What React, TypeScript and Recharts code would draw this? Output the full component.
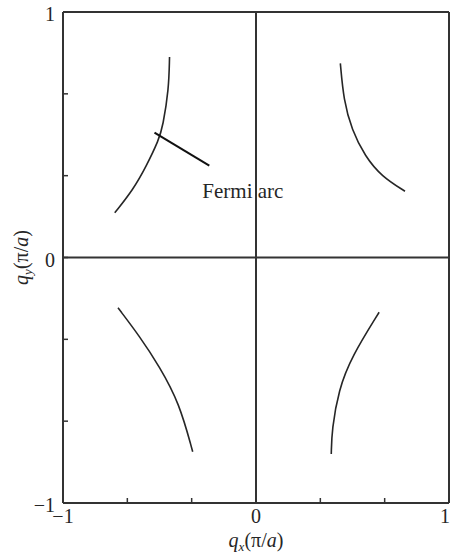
import { Line, LineChart, ReferenceDot, ReferenceLine, XAxis, YAxis } from "recharts";

// Fermi-surface arcs in the (qx, qy) plane, units of π/a.
const arcUpperLeft = [
  { qx: -0.448, qy: 0.817 },
  { qx: -0.452, qy: 0.683 },
  { qx: -0.483, qy: 0.534 },
  { qx: -0.503, qy: 0.48 },
  { qx: -0.569, qy: 0.371 },
  { qx: -0.637, qy: 0.276 },
  { qx: -0.732, qy: 0.182 },
];

const arcUpperRight = [
  { qx: 0.437, qy: 0.791 },
  { qx: 0.454, qy: 0.642 },
  { qx: 0.496, qy: 0.52 },
  { qx: 0.565, qy: 0.412 },
  { qx: 0.651, qy: 0.33 },
  { qx: 0.772, qy: 0.27 },
];

const arcLowerLeft = [
  { qx: -0.715, qy: -0.205 },
  { qx: -0.603, qy: -0.321 },
  { qx: -0.5, qy: -0.444 },
  { qx: -0.397, qy: -0.593 },
  { qx: -0.328, qy: -0.791 },
];

const arcLowerRight = [
  { qx: 0.638, qy: -0.223 },
  { qx: 0.496, qy: -0.403 },
  { qx: 0.428, qy: -0.539 },
  { qx: 0.393, qy: -0.702 },
  { qx: 0.39, qy: -0.8 },
];

// leader from the upper-left arc to its annotation
const arcPointer = [
  { qx: -0.526, qy: 0.509 },
  { qx: -0.242, qy: 0.374 },
];
const annotation = { qx: -0.278, qy: 0.272, text: "Fermi arc" };

// ticks every 1/3, only the integers carry a label
const axisTicks = [-1, -2 / 3, -1 / 3, 0, 1 / 3, 2 / 3, 1];
const labeledTicks = [-1, 0, 1];
const tickText = ["\u22121", "0", "1"];

const FONT = "'Liberation Serif', 'Times New Roman', serif";
const INK = "#262626";
const AXIS = "#333333";

const formatTick = (v: number) => {
  const i = labeledTicks.findIndex((t) => Math.abs(t - v) < 1e-6);
  return i >= 0 ? tickText[i] : "";
};

function QxLabel(props: any) {
  const vb = props.viewBox;
  const cx = vb.x + vb.width / 2;
  return (
    <text x={cx} y={547} textAnchor="middle" fontFamily={FONT} fontSize={20} fill={INK}>
      <tspan fontStyle="italic">q</tspan>
      <tspan fontStyle="italic" fontSize={13} dy={4}>x</tspan>
      <tspan dy={-4}>(π/</tspan>
      <tspan fontStyle="italic">a</tspan>
      <tspan>)</tspan>
    </text>
  );
}

function QyLabel(props: any) {
  const vb = props.viewBox;
  const cy = vb.y + vb.height / 2;
  const cx = 28;
  return (
    <text
      x={cx}
      y={cy}
      transform={`rotate(-90, ${cx}, ${cy})`}
      textAnchor="middle"
      fontFamily={FONT}
      fontSize={20}
      fill={INK}
    >
      <tspan fontStyle="italic">q</tspan>
      <tspan fontStyle="italic" fontSize={13} dy={4}>y</tspan>
      <tspan dy={-4}>(π/</tspan>
      <tspan fontStyle="italic">a</tspan>
      <tspan>)</tspan>
    </text>
  );
}

const arcs = [arcUpperLeft, arcUpperRight, arcLowerLeft, arcLowerRight];

export default function App() {
  return (
    <div style={{ position: "absolute", left: 0, top: 0, background: "#fff" }}>
      <LineChart width={450} height={555} margin={{ top: 12, right: 1, bottom: 0, left: 0 }}>
        <XAxis
          type="number"
          dataKey="qx"
          domain={[-1, 1]}
          ticks={axisTicks}
          tickFormatter={formatTick}
          allowDataOverflow
          height={52}
          tickSize={-5}
          tickMargin={11}
          axisLine={{ stroke: AXIS, strokeWidth: 2 }}
          tickLine={{ stroke: AXIS, strokeWidth: 1.5 }}
          tick={{ fontFamily: FONT, fontSize: 20, fill: INK }}
          label={<QxLabel />}
        />
        <YAxis
          type="number"
          dataKey="qy"
          domain={[-1, 1]}
          ticks={axisTicks}
          tickFormatter={formatTick}
          allowDataOverflow
          width={63}
          tickSize={-5}
          tickMargin={13}
          axisLine={{ stroke: AXIS, strokeWidth: 2 }}
          tickLine={{ stroke: AXIS, strokeWidth: 1.5 }}
          tick={{ fontFamily: FONT, fontSize: 20, fill: INK, dy: 2 }}
          label={<QyLabel />}
        />
        <ReferenceLine x={1} stroke={AXIS} strokeWidth={2} />
        <ReferenceLine y={1} stroke={AXIS} strokeWidth={2} />
        <ReferenceLine x={0} stroke={AXIS} strokeWidth={2} />
        <ReferenceLine y={0} stroke={AXIS} strokeWidth={2} />
        {arcs.map((arc, i) => (
          <Line
            key={i}
            data={arc}
            dataKey="qy"
            type="basis"
            stroke={INK}
            strokeWidth={1.6}
            dot={false}
            activeDot={false}
            isAnimationActive={false}
          />
        ))}
        <Line
          data={arcPointer}
          dataKey="qy"
          type="linear"
          stroke="#111"
          strokeWidth={2}
          dot={false}
          activeDot={false}
          isAnimationActive={false}
        />
        <ReferenceDot
          x={annotation.qx}
          y={annotation.qy}
          r={0}
          shape={(p: any) => (
            <text x={p.cx} y={p.cy} dy={7} textAnchor="start" fontFamily={FONT} fontSize={21} fill={INK}>
              {annotation.text}
            </text>
          )}
        />
      </LineChart>
    </div>
  );
}
